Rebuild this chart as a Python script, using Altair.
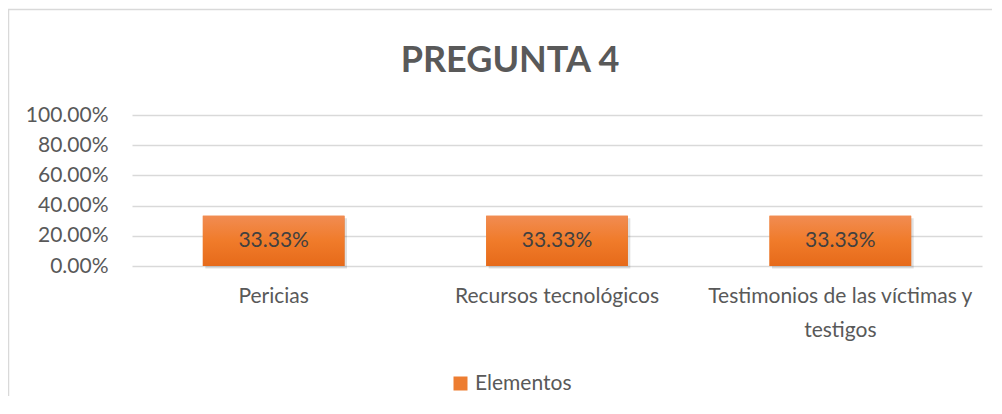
import altair as alt
import pandas as pd

categories = ["Pericias", "Recursos tecnológicos", "Testimonios de las víctimas y testigos"]
values = [0.3333, 0.3333, 0.3333]
series_name = "Elementos"
y_ticks = [0, 0.2, 0.4, 0.6, 0.8, 1.0]

df = pd.DataFrame({"cat": categories, "val": values, "serie": [series_name] * 3})
df["mid"] = df["val"] / 2

FONT = "Lato"
GRAY = "#595959"

grad = alt.Gradient(
    gradient="linear",
    stops=[alt.GradientStop(color="#F18C52", offset=0), alt.GradientStop(color="#F07B2A", offset=0.5),
           alt.GradientStop(color="#E66A1A", offset=1)],
    x1=0, x2=0, y1=0, y2=1,
)

x_axis = alt.Axis(
    labelAngle=0, ticks=False, domain=False, labelPadding=19,
    labelFont=FONT, labelFontSize=21, labelColor=GRAY, labelLineHeight=34,
    labelExpr="datum.label == 'Testimonios de las víctimas y testigos' ? ['Testimonios de las víctimas y', 'testigos'] : datum.label",
    labelLimit=400,
)
y_axis = alt.Axis(
    values=y_ticks, format=".2%", ticks=False, domain=False, labelPadding=24,
    labelFont=FONT, labelFontSize=21, labelColor=GRAY, labelOverlap=False,
    gridColor="#d9d9d9", gridWidth=1.5,
)
x_scale = alt.Scale(paddingInner=0.5, paddingOuter=0.25)
y_scale = alt.Scale(domain=[0, 1])


def xe():
    return alt.X("cat:N", sort=categories, title=None, scale=x_scale, axis=x_axis)


def ye(field):
    return alt.Y(f"{field}:Q", title=None, scale=y_scale, axis=y_axis)


bars = alt.Chart(df).mark_bar().encode(
    x=xe(), y=ye("val"),
    fill=alt.Fill("serie:N", scale=alt.Scale(range=["#ED7D31"]),
                  legend=alt.Legend(title=None, orient="none", legendX=318, legendY=258,
                                    symbolType="square", symbolSize=196, symbolStrokeWidth=0,
                                    labelFont=FONT, labelFontSize=21, labelColor=GRAY, padding=0)),
)
shadow = alt.Chart(df).mark_bar(color="#000000", opacity=0.12, xOffset=2.5, yOffset=2.5).encode(
    x=xe(), y=ye("val")
)
bars_grad = alt.Chart(df).mark_bar(color=grad).encode(x=xe(), y=ye("val"))

labels = alt.Chart(df).mark_text(
    font=FONT, fontSize=21, color="#404040", baseline="middle"
).encode(
    x=xe(), y=ye("mid"),
    text=alt.Text("val:Q", format=".2%"),
)

frame = alt.Chart(alt.Data(values=[{}])).mark_rect(
    fillOpacity=0, stroke="#d9d9d9", strokeWidth=1.5
).encode(
    x=alt.value(-123.5), x2=alt.value(2000), y=alt.value(-105.5), y2=alt.value(2000)
)

chart = alt.layer(frame, bars, shadow, bars_grad, labels).properties(
    width=850, height=151,
    background="white",
    title=alt.TitleParams(
        "PREGUNTA 4", font=FONT, fontSize=36, fontWeight="bold", color=GRAY,
        anchor="middle", dx=-47, offset=-99, baseline="alphabetic",
    ),
    autosize=alt.AutoSizeParams(type="none"),
    padding={"left": 124, "top": 107, "right": 10, "bottom": 130},
).configure_view(stroke="transparent", strokeWidth=0)

chart.save("out.html", embed_options={"renderer": "svg", "actions": False})
